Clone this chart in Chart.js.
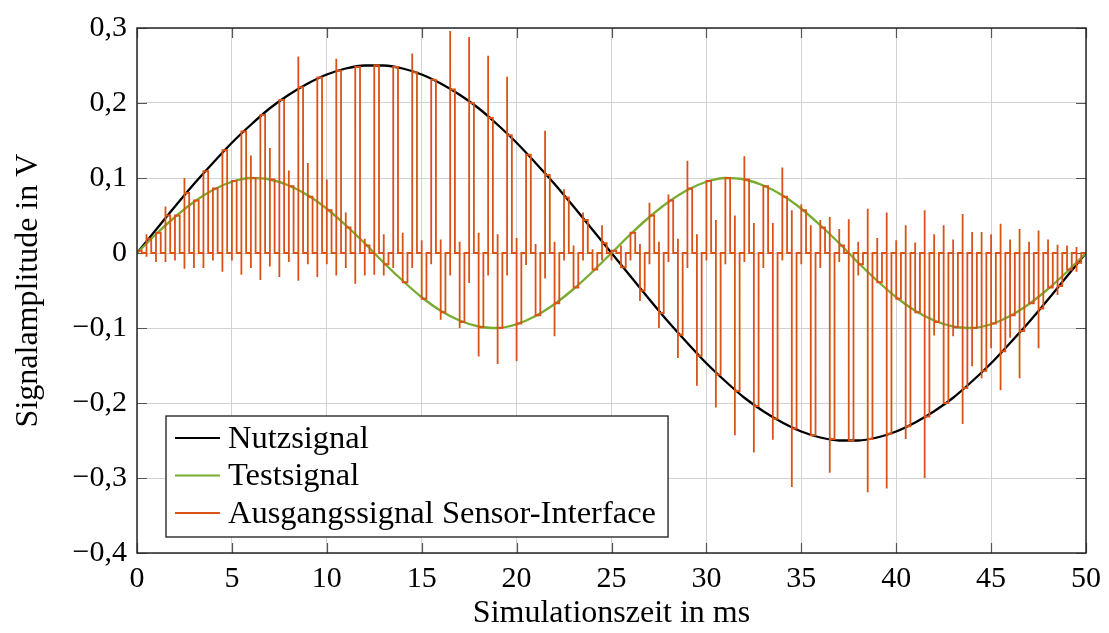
<!DOCTYPE html>
<html lang="de">
<head>
<meta charset="utf-8">
<title>Signalverlauf Sensor-Interface</title>
<script src="https://cdn.jsdelivr.net/npm/chart.js@4.4.1/dist/chart.umd.min.js"></script>
<style>
  html, body { margin: 0; padding: 0; background: #ffffff; }
  #wrap { width: 1109px; height: 633px; }
</style>
</head>
<body>
<div id="wrap"><canvas id="chart" width="1109" height="633"></canvas></div>
<script>
// ---- Zeitachse und Referenzsignale (Stützstellen je 1 ms) ----
const timeMs = [0, 1, 2, 3, 4, 5, 6, 7, 8, 9, 10, 11, 12, 13, 14, 15, 16, 17, 18, 19, 20,
  21, 22, 23, 24, 25, 26, 27, 28, 29, 30, 31, 32, 33, 34, 35, 36, 37, 38, 39, 40,
  41, 42, 43, 44, 45, 46, 47, 48, 49, 50];

const nutzsignal = [0, 0.031, 0.062, 0.092, 0.120, 0.147, 0.171, 0.193, 0.211, 0.226,
  0.238, 0.246, 0.250, 0.250, 0.246, 0.238, 0.226, 0.211, 0.193, 0.171,
  0.147, 0.120, 0.092, 0.062, 0.031, 0, -0.031, -0.062, -0.092, -0.120,
  -0.147, -0.171, -0.193, -0.211, -0.226, -0.238, -0.246, -0.250, -0.250, -0.246,
  -0.238, -0.226, -0.211, -0.193, -0.171, -0.147, -0.120, -0.092, -0.062, -0.031, 0];

const testsignal = [0, 0.025, 0.048, 0.068, 0.084, 0.095, 0.100, 0.098, 0.090, 0.077,
  0.059, 0.037, 0.013, -0.013, -0.037, -0.059, -0.077, -0.090, -0.098, -0.100,
  -0.095, -0.084, -0.068, -0.048, -0.025, 0, 0.025, 0.048, 0.068, 0.084,
  0.095, 0.100, 0.098, 0.090, 0.077, 0.059, 0.037, 0.013, -0.013, -0.037,
  -0.059, -0.077, -0.090, -0.098, -0.100, -0.095, -0.084, -0.068, -0.048, -0.025, 0];

// ---- Ausgangssignal: je Taktperiode (1 ms) ein Test- und ein Nutzabtastwert ----
// Haltewert der Testphase
const testLevel = [0.003, 0.027, 0.050, 0.070, 0.086, 0.096, 0.100, 0.098, 0.089, 0.075,
  0.057, 0.034, 0.010, -0.015, -0.039, -0.061, -0.079, -0.092, -0.099, -0.100,
  -0.094, -0.083, -0.067, -0.046, -0.022,
  0.003, 0.027, 0.050, 0.070, 0.086, 0.096, 0.100, 0.098, 0.089, 0.075,
  0.057, 0.034, 0.010, -0.015, -0.039, -0.061, -0.079, -0.092, -0.099, -0.100,
  -0.094, -0.083, -0.067, -0.046, -0.022];
// Haltewert der Nutzphase
const nutzLevel = [0.019, 0.050, 0.080, 0.109, 0.137, 0.162, 0.184, 0.204, 0.221, 0.234,
  0.243, 0.248, 0.250, 0.248, 0.241, 0.231, 0.218, 0.200, 0.180, 0.157,
  0.131, 0.104, 0.074, 0.044, 0.013,
  -0.019, -0.050, -0.080, -0.109, -0.137, -0.162, -0.184, -0.204, -0.221, -0.234,
  -0.243, -0.248, -0.250, -0.248, -0.241, -0.231, -0.218, -0.200, -0.180, -0.157,
  -0.131, -0.104, -0.074, -0.044, -0.013];
// Schaltspitzen beim Einschalten der Testphase (Maximum / Minimum, null = keine)
const testSpikeHigh = [null, null, null, null, null, null,
  0.130, 0.140, 0.110, 0.120, 0.098, 0.054, 0.019,
  0.025, 0.027, 0.017, 0.018, 0.015, 0.027, 0.025, 0.020, 0.012, 0.015, 0.010, 0.005,
  null, null, 0.067, 0.078, 0.123, null, null, 0.129, null, 0.114, 0.065, 0.044, 0.032, 0.015,
  0.020, 0.017, 0.014, 0.025, 0.018, 0.028, 0.025, 0.018, 0.015, 0.018, 0.010];
const testSpikeLow = [null, -0.012, -0.010, -0.020, -0.010, -0.010, -0.020, -0.018, -0.012, -0.015,
  -0.015, -0.020, -0.030,
  -0.030, null, null, -0.089, -0.100, -0.138, -0.148, -0.144, null, -0.111, null, null,
  -0.010, -0.010, -0.015, -0.012, -0.020, -0.010, -0.015, -0.012, -0.020, -0.010,
  -0.015, -0.020, -0.012,
  -0.030, null, null, null, -0.110, -0.111, -0.151, -0.127, -0.113, null, null, null];
// Schaltspitzen beim Einschalten der Nutzphase
const nutzSpikeHigh = [0.025, 0.062, 0.100, null, null, null, null, null, 0.262, null,
  0.259, null, null, null, 0.266, null, 0.296, 0.288, 0.263, 0.235,
  null, 0.163, 0.085, 0.054, 0.037,
  0.010, 0.012, 0.015, 0.019, 0.025, 0.044, 0.050, 0.040, 0.040, 0.057,
  0.037, 0.048, 0.045, 0.059, 0.054, 0.037, 0.057, 0.037, 0.052, 0.028,
  0.039, 0.032, 0.030, 0.011, 0.008];
const nutzSpikeLow = [-0.005, -0.012, -0.021, -0.020, -0.025, -0.029, -0.036, -0.032, -0.037, -0.032,
  -0.030, -0.041, -0.029, -0.020, -0.020, -0.015, -0.030, -0.040, -0.030, -0.030,
  -0.016, -0.034, -0.010, -0.010, -0.010,
  null, -0.064, -0.100, -0.140, -0.177, -0.206, -0.243, -0.266, -0.249, -0.312,
  null, -0.293, null, -0.319, -0.314, -0.248, -0.300, null, -0.228, -0.167,
  -0.183, -0.167, -0.127, -0.056, -0.025];

// Taktschema einer Periode: Testphase, Pause, Nutzphase, Pause (je 0,25 ms)
const PERIOD_MS = 1;
const PHASE_MS = 0.25;

function buildOutputSignal() {
  const pts = [{ x: 0, y: 0 }];
  for (let k = 0; k < testLevel.length; k++) {
    const t0 = k * PERIOD_MS;
    const tTestEnd = t0 + PHASE_MS;
    const tNutz = t0 + 2 * PHASE_MS;
    const tNutzEnd = t0 + 3 * PHASE_MS;
    pts.push({ x: t0, y: 0 });
    if (testSpikeHigh[k] !== null) pts.push({ x: t0, y: testSpikeHigh[k] });
    if (testSpikeLow[k] !== null) pts.push({ x: t0, y: testSpikeLow[k] });
    pts.push({ x: t0, y: testLevel[k] });
    pts.push({ x: tTestEnd, y: testLevel[k] });
    pts.push({ x: tTestEnd, y: 0 });
    pts.push({ x: tNutz, y: 0 });
    if (nutzSpikeHigh[k] !== null) pts.push({ x: tNutz, y: nutzSpikeHigh[k] });
    if (nutzSpikeLow[k] !== null) pts.push({ x: tNutz, y: nutzSpikeLow[k] });
    pts.push({ x: tNutz, y: nutzLevel[k] });
    pts.push({ x: tNutzEnd, y: nutzLevel[k] });
    pts.push({ x: tNutzEnd, y: 0 });
  }
  pts.push({ x: timeMs[timeMs.length - 1], y: 0 });
  return pts;
}

const pairs = (xs, ys) => xs.map((x, i) => ({ x: x, y: ys[i] }));

const FONT = 'Liberation Serif';
const TICK_LEN = 10;

// Rahmen, innenliegende Teilstriche und Legende im Diagrammfeld
const axisDecor = {
  id: 'axisDecor',
  beforeDatasetsDraw(chart) {
    const { ctx, chartArea: a, scales } = chart;
    ctx.save();
    ctx.strokeStyle = '#555555';
    ctx.lineWidth = 1.2;
    ctx.beginPath();
    scales.x.ticks.forEach(t => {
      const px = Math.round(scales.x.getPixelForValue(t.value)) + 0.5;
      ctx.moveTo(px, a.bottom); ctx.lineTo(px, a.bottom - TICK_LEN);
      ctx.moveTo(px, a.top); ctx.lineTo(px, a.top + TICK_LEN);
    });
    scales.y.ticks.forEach(t => {
      const py = Math.round(scales.y.getPixelForValue(t.value)) + 0.5;
      ctx.moveTo(a.left, py); ctx.lineTo(a.left + TICK_LEN, py);
      ctx.moveTo(a.right, py); ctx.lineTo(a.right - TICK_LEN, py);
    });
    ctx.stroke();
    ctx.restore();
  },
  afterDatasetsDraw(chart) {
    const { ctx, chartArea: a } = chart;
    ctx.save();
    ctx.strokeStyle = '#262626';
    ctx.lineWidth = 1.5;
    ctx.strokeRect(a.left, a.top, a.right - a.left, a.bottom - a.top);

    // Legende
    const sets = chart.data.datasets;
    ctx.font = '32.5px "' + FONT + '"';
    const rowH = 37.5;
    const boxLeft = a.left + 29;
    const boxBottom = a.bottom - 16;
    const boxH = 22 + rowH * (sets.length - 1) + 24;
    const boxTop = boxBottom - boxH;
    const lineX0 = boxLeft + 9, lineX1 = boxLeft + 54, textX = boxLeft + 62;
    let maxW = 0;
    sets.forEach(s => { maxW = Math.max(maxW, ctx.measureText(s.label).width); });
    const boxW = textX + maxW + 12 - boxLeft;
    ctx.fillStyle = '#ffffff';
    ctx.fillRect(boxLeft, boxTop, boxW, boxH);
    ctx.strokeStyle = '#1a1a1a';
    ctx.lineWidth = 1.3;
    ctx.strokeRect(boxLeft, boxTop, boxW, boxH);
    ctx.textBaseline = 'middle';
    ctx.textAlign = 'left';
    sets.forEach((s, i) => {
      const cy = boxTop + 22 + i * rowH;
      ctx.strokeStyle = s.borderColor;
      ctx.lineWidth = 2;
      ctx.beginPath();
      ctx.moveTo(lineX0, cy); ctx.lineTo(lineX1, cy);
      ctx.stroke();
      ctx.fillStyle = '#000000';
      ctx.fillText(s.label, textX, cy + 1);
    });
    ctx.restore();
  }
};

function fmtValue(v) {
  const r = Math.round(v * 10) / 10;
  if (r === 0) return '0';
  return (r < 0 ? '\u2212' : '') + Math.abs(r).toFixed(1).replace('.', ',');
}

new Chart(document.getElementById('chart'), {
  type: 'line',
  data: {
    datasets: [
      {
        label: 'Nutzsignal',
        data: pairs(timeMs, nutzsignal),
        borderColor: '#000000',
        borderWidth: 2.3,
        cubicInterpolationMode: 'monotone',
        pointRadius: 0,
        order: 3
      },
      {
        label: 'Testsignal',
        data: pairs(timeMs, testsignal),
        borderColor: '#77ac30',
        borderWidth: 2.3,
        cubicInterpolationMode: 'monotone',
        pointRadius: 0,
        order: 2
      },
      {
        label: 'Ausgangssignal Sensor-Interface',
        data: buildOutputSignal(),
        borderColor: '#d95319',
        borderWidth: 1.8,
        borderJoinStyle: 'miter',
        tension: 0,
        pointRadius: 0,
        order: 1
      }
    ]
  },
  options: {
    responsive: false,
    animation: false,
    devicePixelRatio: 1,
    layout: { padding: { top: 24, right: 20, left: 0, bottom: 0 } },
    plugins: {
      legend: { display: false },
      tooltip: { enabled: false }
    },
    scales: {
      x: {
        type: 'linear',
        min: 0,
        max: 50,
        afterFit(scale) { scale.height = 80; },
        ticks: {
          stepSize: 5,
          padding: 8,
          color: '#000000',
          font: { family: FONT, size: 30 },
          maxRotation: 0,
          callback: v => String(v)
        },
        grid: { color: '#d2d2d2', lineWidth: 1, drawTicks: false },
        border: { display: false },
        title: {
          display: true,
          text: 'Simulationszeit in ms',
          color: '#000000',
          font: { family: FONT, size: 32 },
          padding: { top: 0, bottom: 0 }
        }
      },
      y: {
        type: 'linear',
        min: -0.4,
        max: 0.3,
        afterFit(scale) { scale.width = 137; },
        ticks: {
          stepSize: 0.1,
          padding: 10,
          color: '#000000',
          font: { family: FONT, size: 30 },
          callback: v => fmtValue(v)
        },
        grid: { color: '#d2d2d2', lineWidth: 1, drawTicks: false },
        border: { display: false },
        title: {
          display: true,
          text: 'Signalamplitude in V',
          color: '#000000',
          font: { family: FONT, size: 32 },
          padding: { top: 9, bottom: 0 }
        }
      }
    }
  },
  plugins: [axisDecor]
});
</script>
</body>
</html>
